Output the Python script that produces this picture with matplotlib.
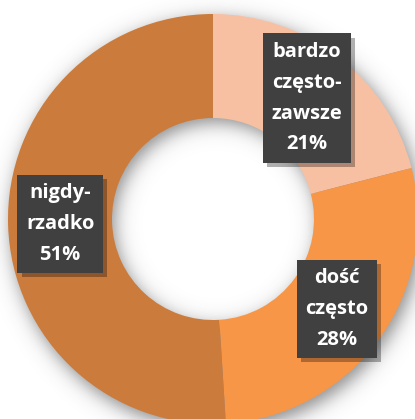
import matplotlib
matplotlib.use('Agg')
import matplotlib.pyplot as plt
import matplotlib.patheffects as pe
import numpy as np

labels = ['bardzo\nczęsto-\nzawsze', 'dość\nczęsto', 'nigdy-\nrzadko']
values = [21, 28, 51]
colors = ['#F8C0A2', '#F79646', '#CB7B3B']

W, H = 415, 419
cx, cy = 213, 219          # centre, pixels from top
r_out, r_in = 205, 101

fig = plt.figure(figsize=(W / 100, H / 100), dpi=100)
ax = fig.add_axes([0, 0, 1, 1])

# soft drop shadow of the ring
yy, xx = np.mgrid[0:H, 0:W] + 0.5
d = np.hypot(xx - (cx + 3), yy - (cy + 6))
soft = 11.0
shade = 0.5 * (1 + np.tanh((r_out - d) / soft)) * 0.5 * (1 + np.tanh((d - r_in) / soft))
img = np.zeros((H, W, 4))
img[..., :3] = 0.25
img[..., 3] = 0.6 * shade
ax.imshow(img, extent=(0, W, 0, H), origin='upper', zorder=0, interpolation='bilinear')

wedges, _ = ax.pie(values, colors=colors, radius=r_out, center=(cx, H - cy),
                   startangle=90, counterclock=False,
                   wedgeprops=dict(width=r_out - r_in, linewidth=0))
for w in wedges:
    w.set_zorder(1)

# labels sit in the middle of the ring at each slice's mid angle
cum = np.cumsum(values) - np.array(values) / 2
mid = 90 - cum / sum(values) * 360
r_lab = (r_out + r_in) / 2
for lab, v, a in zip(labels, values, mid):
    x = cx + r_lab * np.cos(np.radians(a))
    y = (H - cy) + r_lab * np.sin(np.radians(a))
    t = ax.text(x, y, f'{lab}\n{v}%', ha='center', va='center', color='white',
                fontsize=14.5, fontweight='bold', family='Open Sans', linespacing=1.72,
                zorder=5,
                bbox=dict(boxstyle='square,pad=0.42', fc='#404040', ec='none', lw=0))
    t.get_bbox_patch().set_path_effects([
        pe.SimplePatchShadow(offset=(3, -3), shadow_rgbFace='black', alpha=0.3),
        pe.Normal()])

ax.set_xlim(0, W)
ax.set_ylim(0, H)
ax.set_aspect('auto')
ax.axis('off')

fig.savefig('out.png', dpi=100, facecolor='white')
